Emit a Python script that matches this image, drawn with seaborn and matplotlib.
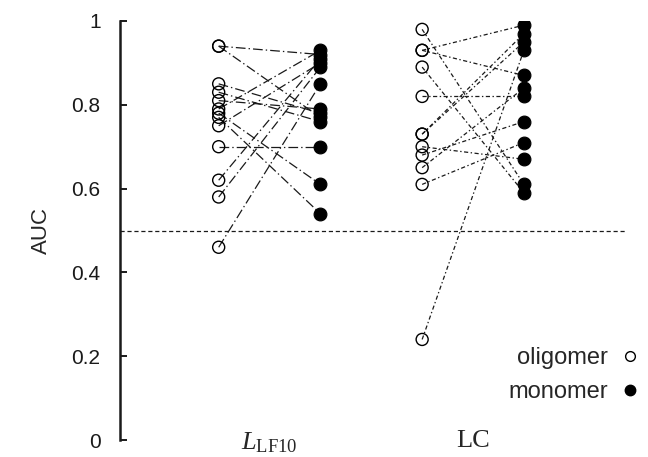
import matplotlib
matplotlib.use('Agg')
import matplotlib.pyplot as plt
import seaborn as sns
import pandas as pd
from matplotlib.lines import Line2D
from matplotlib.ticker import FuncFormatter

# ---- data ----
groups = ['LF10', 'LC']
group_labels = [r'$L_{\mathrm{LF10}}$', 'LC']
states = ['oligomer', 'monomer']

lf10_oligomer = [0.94, 0.94, 0.85, 0.83, 0.81, 0.79, 0.78, 0.77, 0.75, 0.70, 0.62, 0.58, 0.46]
lf10_monomer  = [0.92, 0.77, 0.78, 0.76, 0.79, 0.93, 0.61, 0.54, 0.90, 0.70, 0.91, 0.89, 0.85]

lc_oligomer = [0.98, 0.93, 0.93, 0.89, 0.82, 0.73, 0.73, 0.70, 0.68, 0.65, 0.61, 0.24]
lc_monomer  = [0.61, 0.99, 0.87, 0.59, 0.82, 0.97, 0.95, 0.67, 0.76, 0.84, 0.71, 0.93]

y_ticks = [0, 0.2, 0.4, 0.6, 0.8, 1.0]
chance_level = 0.5

# ---- style ----
sns.set_theme(style='white')
plt.rcParams['font.family'] = ['Liberation Sans', 'DejaVu Sans']
plt.rcParams['mathtext.fontset'] = 'custom'
plt.rcParams['mathtext.rm'] = 'Liberation Serif'
plt.rcParams['mathtext.it'] = 'Liberation Serif:italic'
plt.rcParams['lines.scale_dashes'] = False

# ---- long table ----
rows = []
for gi, (g, olig, mono) in enumerate(zip(groups, [lf10_oligomer, lc_oligomer],
                                         [lf10_monomer, lc_monomer])):
    for pi, (o, m) in enumerate(zip(olig, mono)):
        rows.append(dict(group=g, pair=f'{g}-{pi}', state='oligomer', pos=gi + 1 - 0.25, auc=o))
        rows.append(dict(group=g, pair=f'{g}-{pi}', state='monomer', pos=gi + 1 + 0.25, auc=m))
df = pd.DataFrame(rows)

fig = plt.figure(figsize=(6.48, 4.57), dpi=100)
ax = fig.add_axes([120 / 648, 17 / 457, 505 / 648, 419 / 457])

line_styles = {'LF10': (0, (7, 2.2, 1, 2.2)), 'LC': (0, (3, 1.8, 1, 1.8))}
for g in groups:
    sns.lineplot(data=df[df['group'] == g], x='pos', y='auc', units='pair',
                 estimator=None, sort=False, color='#1a1a1a', linewidth=0.9,
                 linestyle=line_styles[g], ax=ax, legend=False)

ax.axhline(chance_level, color='#1a1a1a', linewidth=0.9, linestyle=(0, (3, 2)), zorder=1)

sns.scatterplot(data=df[df['state'] == 'oligomer'], x='pos', y='auc', marker='o',
                s=75, facecolor='none', edgecolor='black', linewidth=1.0,
                ax=ax, legend=False, zorder=3)
sns.scatterplot(data=df[df['state'] == 'monomer'], x='pos', y='auc', marker='o',
                s=85, color='black', edgecolor='black', linewidth=0.8,
                ax=ax, legend=False, zorder=3)

ax.set_xlim(0.265, 2.747)
ax.set_ylim(0, 1)

for side in ['top', 'right', 'bottom']:
    ax.spines[side].set_visible(False)
ax.spines['left'].set_linewidth(1.8)
ax.spines['left'].set_color('#1a1a1a')

ax.set_yticks(y_ticks)
ax.yaxis.set_major_formatter(FuncFormatter(lambda v, p: f'{v:g}'))
ax.tick_params(axis='y', direction='in', length=5, width=1.4, left=True,
               labelsize=15, pad=14, colors='#1a1a1a')
ax.set_xticks([1, 2])
ax.set_xticklabels(group_labels)
ax.tick_params(axis='x', length=0, labelsize=19, pad=-7)
for lab in ax.get_xticklabels():
    lab.set_fontfamily('Liberation Serif')

ax.set_xlabel('')
ax.set_ylabel('AUC', fontsize=16)
ax.yaxis.set_label_coords(-0.135, 0.5)

handles = [
    Line2D([], [], linestyle='none', marker='o', markersize=7, markerfacecolor='none',
           markeredgecolor='black', markeredgewidth=1.0, label='oligomer'),
    Line2D([], [], linestyle='none', marker='o', markersize=7.5, markerfacecolor='black',
           markeredgecolor='black', label='monomer'),
]
ax.legend(handles=handles, loc='center right', bbox_to_anchor=(1.034, 0.155),
          frameon=False, markerfirst=False, fontsize=17, handlelength=1.0,
          handletextpad=0.45, labelspacing=0.5, borderpad=0, borderaxespad=0)

fig.savefig('out.png', dpi=100)
